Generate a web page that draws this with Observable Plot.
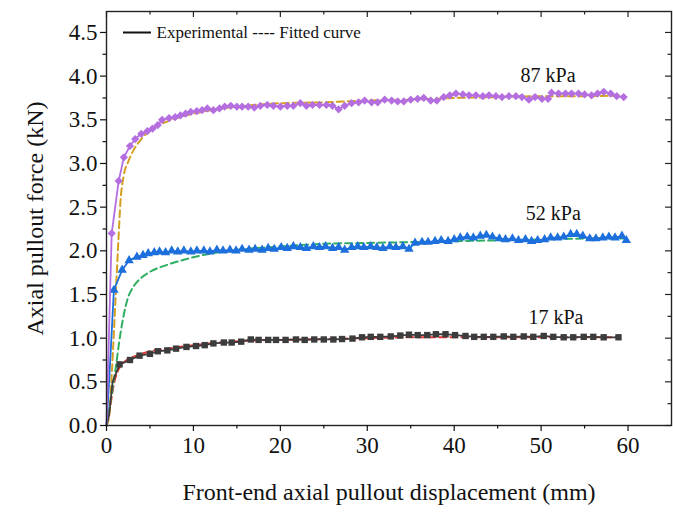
<!DOCTYPE html>
<html>
<head>
<meta charset="utf-8">
<script src="https://cdn.jsdelivr.net/npm/d3@7"></script>
<script src="https://cdn.jsdelivr.net/npm/@observablehq/plot@0.6"></script>
<style>
  html, body { margin: 0; padding: 0; background: #ffffff; }
  #chart { position: relative; width: 673px; height: 515px; }
</style>
</head>
<body>
<div id="chart"></div>
<script>
// ---- Experimental data (x: displacement mm, y: force kN) ----
const exp87X = [0,0.6,1.4,2.0,2.7,3.3,4.0,4.7,5.3,5.9,6.4,7.2,7.9,8.5,9.1,9.7,10.4,11.0,11.6,12.3,13.0,13.6,14.3,15.0,15.6,16.3,17.0,17.7,18.5,19.2,20.0,20.8,21.5,22.3,23.0,23.7,24.5,25.3,26.0,26.7,27.4,28.2,29.0,29.7,30.5,31.2,32.0,32.8,33.5,34.2,35.0,35.8,36.5,37.3,38.0,38.8,39.5,40.2,41.0,41.7,42.5,43.3,44.0,44.8,45.5,46.3,47.1,47.8,48.6,49.3,50.1,50.8,51.2,52.0,52.8,53.5,54.3,55.0,55.8,56.5,57.2,58.0,58.7,59.5];
const exp87Y = [0,2.20,2.80,3.07,3.20,3.28,3.34,3.37,3.40,3.44,3.50,3.52,3.53,3.55,3.57,3.59,3.60,3.61,3.63,3.61,3.63,3.65,3.66,3.65,3.65,3.65,3.64,3.66,3.67,3.66,3.65,3.66,3.66,3.69,3.66,3.67,3.67,3.67,3.66,3.62,3.66,3.69,3.70,3.72,3.70,3.70,3.73,3.72,3.71,3.71,3.73,3.74,3.75,3.72,3.72,3.76,3.78,3.80,3.79,3.78,3.78,3.77,3.78,3.77,3.76,3.77,3.77,3.76,3.73,3.76,3.74,3.74,3.81,3.80,3.80,3.80,3.80,3.79,3.78,3.80,3.82,3.80,3.77,3.76];

const exp52X = [0,0.3,0.85,1.8,2.6,3.5,4.2,4.8,5.5,6.1,6.8,7.5,8.2,8.9,9.7,10.4,11.2,11.9,12.7,13.4,14.2,14.9,15.6,16.4,17.1,17.9,18.6,19.3,20.1,20.8,21.5,22.3,23.0,23.8,24.5,25.2,26.0,26.7,27.4,28.2,28.9,29.6,30.4,31.1,31.8,32.6,33.3,34.1,34.8,35.5,36.3,37.0,37.8,38.5,39.3,40.0,40.7,41.5,42.2,43.0,43.7,44.4,45.2,45.9,46.7,47.4,48.2,48.9,49.6,50.4,51.1,51.9,52.6,53.4,54.1,54.8,55.6,56.3,57.1,57.8,58.5,59.3,59.8];
const exp52Y = [0,0.50,1.55,1.78,1.89,1.93,1.95,1.97,1.98,1.99,1.98,2.00,1.99,2.00,1.99,2.00,2.00,1.99,2.01,2.00,2.01,2.00,2.02,2.01,2.02,2.01,2.03,2.02,2.04,2.03,2.05,2.04,2.03,2.05,2.04,2.05,2.03,2.04,2.01,2.04,2.05,2.04,2.05,2.04,2.03,2.05,2.04,2.05,2.02,2.09,2.10,2.10,2.11,2.12,2.11,2.13,2.15,2.16,2.15,2.17,2.18,2.16,2.14,2.13,2.14,2.12,2.13,2.11,2.12,2.13,2.15,2.15,2.16,2.19,2.19,2.17,2.14,2.14,2.15,2.16,2.15,2.17,2.12];

const exp17X = [0,0.3,0.7,1.5,2.7,3.8,5.0,5.9,7.0,8.0,9.2,10.3,11.3,12.3,13.5,14.4,15.5,16.6,17.5,18.6,19.5,20.6,21.8,22.8,23.9,25.0,26.1,27.1,28.3,29.4,30.4,31.5,32.7,33.8,34.8,35.8,36.9,37.9,39.0,40.1,41.3,42.3,43.4,44.5,45.7,46.8,48.0,49.1,50.3,51.4,52.6,53.7,54.9,56.0,57.2,58.9];
const exp17Y = [0,0.12,0.50,0.70,0.75,0.80,0.82,0.85,0.86,0.88,0.90,0.91,0.92,0.94,0.95,0.95,0.96,0.985,0.98,0.98,0.98,0.98,0.985,0.98,0.985,0.985,0.985,0.99,0.995,1.01,1.015,1.015,1.02,1.03,1.04,1.035,1.035,1.045,1.045,1.035,1.025,1.015,1.015,1.015,1.02,1.015,1.02,1.015,1.025,1.015,1.01,1.01,1.015,1.015,1.01,1.01];

// ---- Fitted curves ----
const fit87X = [0,0.3,0.65,1.03,1.41,1.6,2.0,2.5,3.1,4.0,5.4,7.5,10,12,15,20,25,30,35,40,45,50,55,59.5];
const fit87Y = [0,0.10,0.67,1.43,2.20,2.55,2.87,3.02,3.15,3.28,3.40,3.50,3.57,3.61,3.65,3.69,3.70,3.72,3.73,3.75,3.76,3.77,3.77,3.78];
const fit52X = [0,0.5,1.0,1.6,2.4,3.1,4,5,7,9,11,14,17,20,25,30,35,40,45,50,55,59.8];
const fit52Y = [0,0.30,0.62,1.05,1.44,1.59,1.69,1.76,1.84,1.90,1.95,2.00,2.03,2.05,2.08,2.09,2.10,2.11,2.12,2.13,2.14,2.14];
const fit17X = [0,0.4,0.8,1.2,1.8,2.5,3.5,5,7,10,13,16,20,25,30,35,40,45,50,55,59];
const fit17Y = [0,0.20,0.45,0.60,0.70,0.76,0.80,0.85,0.88,0.92,0.95,0.97,0.98,0.99,1.00,1.01,1.01,1.01,1.01,1.01,1.01];

// ---- Labels & ticks ----
const seriesLabels = ["87 kPa", "52 kPa", "17 kPa"];
const seriesLabelX = [50.8, 51.4, 51.7];
const seriesLabelY = [4.01, 2.43, 1.23];
const xTicks = [0, 10, 20, 30, 40, 50, 60];
const xMinor = [5, 15, 25, 35, 45, 55];
const yTicks = [0, 0.5, 1, 1.5, 2, 2.5, 3, 3.5, 4, 4.5];
const yMinor = [0.25, 0.75, 1.25, 1.75, 2.25, 2.75, 3.25, 3.75, 4.25];
const xTitle = "Front-end axial pullout displacement (mm)";
const yTitle = "Axial pullout force (kN)";
const legendText = "Experimental ---- Fitted curve";

const zip = (xs, ys) => xs.map((x, i) => ({x, y: ys[i]}));
const e87 = zip(exp87X, exp87Y), e52 = zip(exp52X, exp52Y), e17 = zip(exp17X, exp17Y);
const f87 = zip(fit87X, fit87Y), f52 = zip(fit52X, fit52Y), f17 = zip(fit17X, fit17Y);
const labels = seriesLabels.map((t, i) => ({t, x: seriesLabelX[i], y: seriesLabelY[i]}));

const C = {
  purple: "#b46ee0", blue: "#1c6fdc", gray: "#3c3c3c",
  orange: "#d4a020", green: "#2fae62", red: "#e83434"
};
const diamond = d3.symbolDiamond2 || d3.symbolDiamond;
const triangle = d3.symbolTriangle;
const square = d3.symbolSquare;

const W = 673, H = 515, mL = 106, mR = 2, mT = 11, mB = 90;
const fw = W - mL - mR, fh = H - mT - mB;
const font = "'Liberation Serif', 'Times New Roman', serif";
const dash = "7,4";

const plot = Plot.plot({
  width: W, height: H,
  marginLeft: mL, marginRight: mR, marginTop: mT, marginBottom: mB,
  style: {fontFamily: font, background: "#ffffff", color: "#111", overflow: "visible"},
  x: {domain: [0, 65]},
  y: {domain: [0, 4.74]},
  marks: [
    // fitted (dashed) under experimental
    Plot.line(f17, {x: "x", y: "y", stroke: C.red, strokeWidth: 2, strokeDasharray: dash, curve: "monotone-x"}),
    Plot.line(f52, {x: "x", y: "y", stroke: C.green, strokeWidth: 2, strokeDasharray: dash, curve: "monotone-x"}),
    Plot.line(f87, {x: "x", y: "y", stroke: C.orange, strokeWidth: 2, strokeDasharray: dash, curve: "monotone-x"}),
    // experimental
    Plot.line(e17, {x: "x", y: "y", stroke: C.gray, strokeWidth: 1.8}),
    Plot.dot(e17.filter(d => d.x > 1), {x: "x", y: "y", symbol: square, r: 3.6, fill: C.gray, stroke: "none"}),
    Plot.line(e52, {x: "x", y: "y", stroke: C.blue, strokeWidth: 1.8}),
    Plot.dot(e52.filter(d => d.x > 0.5), {x: "x", y: "y", symbol: triangle, r: 3.5, fill: C.blue, stroke: "none"}),
    Plot.line(e87, {x: "x", y: "y", stroke: C.purple, strokeWidth: 1.8}),
    Plot.dot(e87.filter(d => d.x > 0.3), {x: "x", y: "y", symbol: diamond, r: 3.7, fill: C.purple, stroke: "none"}),
    // frame
    Plot.frame({stroke: "#222", strokeWidth: 1.4}),
    // bottom axis
    Plot.axisX({ticks: xTicks, tickSize: 6, tickPadding: 5, fontSize: 23, label: null, strokeWidth: 1.2}),
    Plot.axisX({ticks: xMinor, tickSize: 3.5, tickFormat: () => "", label: null, strokeWidth: 1.2}),
    // left axis
    Plot.axisY({ticks: yTicks, tickSize: 6, tickPadding: 3, fontSize: 23, tickFormat: d3.format(".1f"), label: null, strokeWidth: 1.2}),
    Plot.axisY({ticks: yMinor, tickSize: 3.5, tickFormat: () => "", label: null, strokeWidth: 1.2}),
    // top & right inward ticks
    Plot.tickX(xTicks, {x: d => d, insetBottom: fh - 6, stroke: "#222", strokeWidth: 1.2}),
    Plot.tickX(xMinor, {x: d => d, insetBottom: fh - 3.5, stroke: "#222", strokeWidth: 1.2}),
    Plot.tickY(yTicks, {y: d => d, insetLeft: fw - 6, stroke: "#222", strokeWidth: 1.2}),
    Plot.tickY(yMinor, {y: d => d, insetLeft: fw - 3.5, stroke: "#222", strokeWidth: 1.2}),
    // titles
    Plot.text([yTitle], {frameAnchor: "left", dx: -71, rotate: -90, textAnchor: "middle", lineAnchor: "middle", fontSize: 24, fill: "#111"}),
    Plot.text([xTitle], {frameAnchor: "bottom", dy: 67, textAnchor: "middle", lineAnchor: "middle", fontSize: 24, fill: "#111"}),
    // series labels
    Plot.text(labels, {x: "x", y: "y", text: "t", fontSize: 20, fill: "#111"}),
    // legend text
    Plot.text([legendText], {frameAnchor: "top-left", dx: 50, dy: 21, textAnchor: "start", lineAnchor: "middle", fontSize: 17, fill: "#111"})
  ]
});

document.getElementById("chart").appendChild(plot);
// legend sample line (solid = experimental)
d3.select(plot).append("line")
  .attr("x1", mL + 17).attr("x2", mL + 45)
  .attr("y1", mT + 21.5).attr("y2", mT + 21.5)
  .attr("stroke", "#111").attr("stroke-width", 2);
</script>
</body>
</html>
